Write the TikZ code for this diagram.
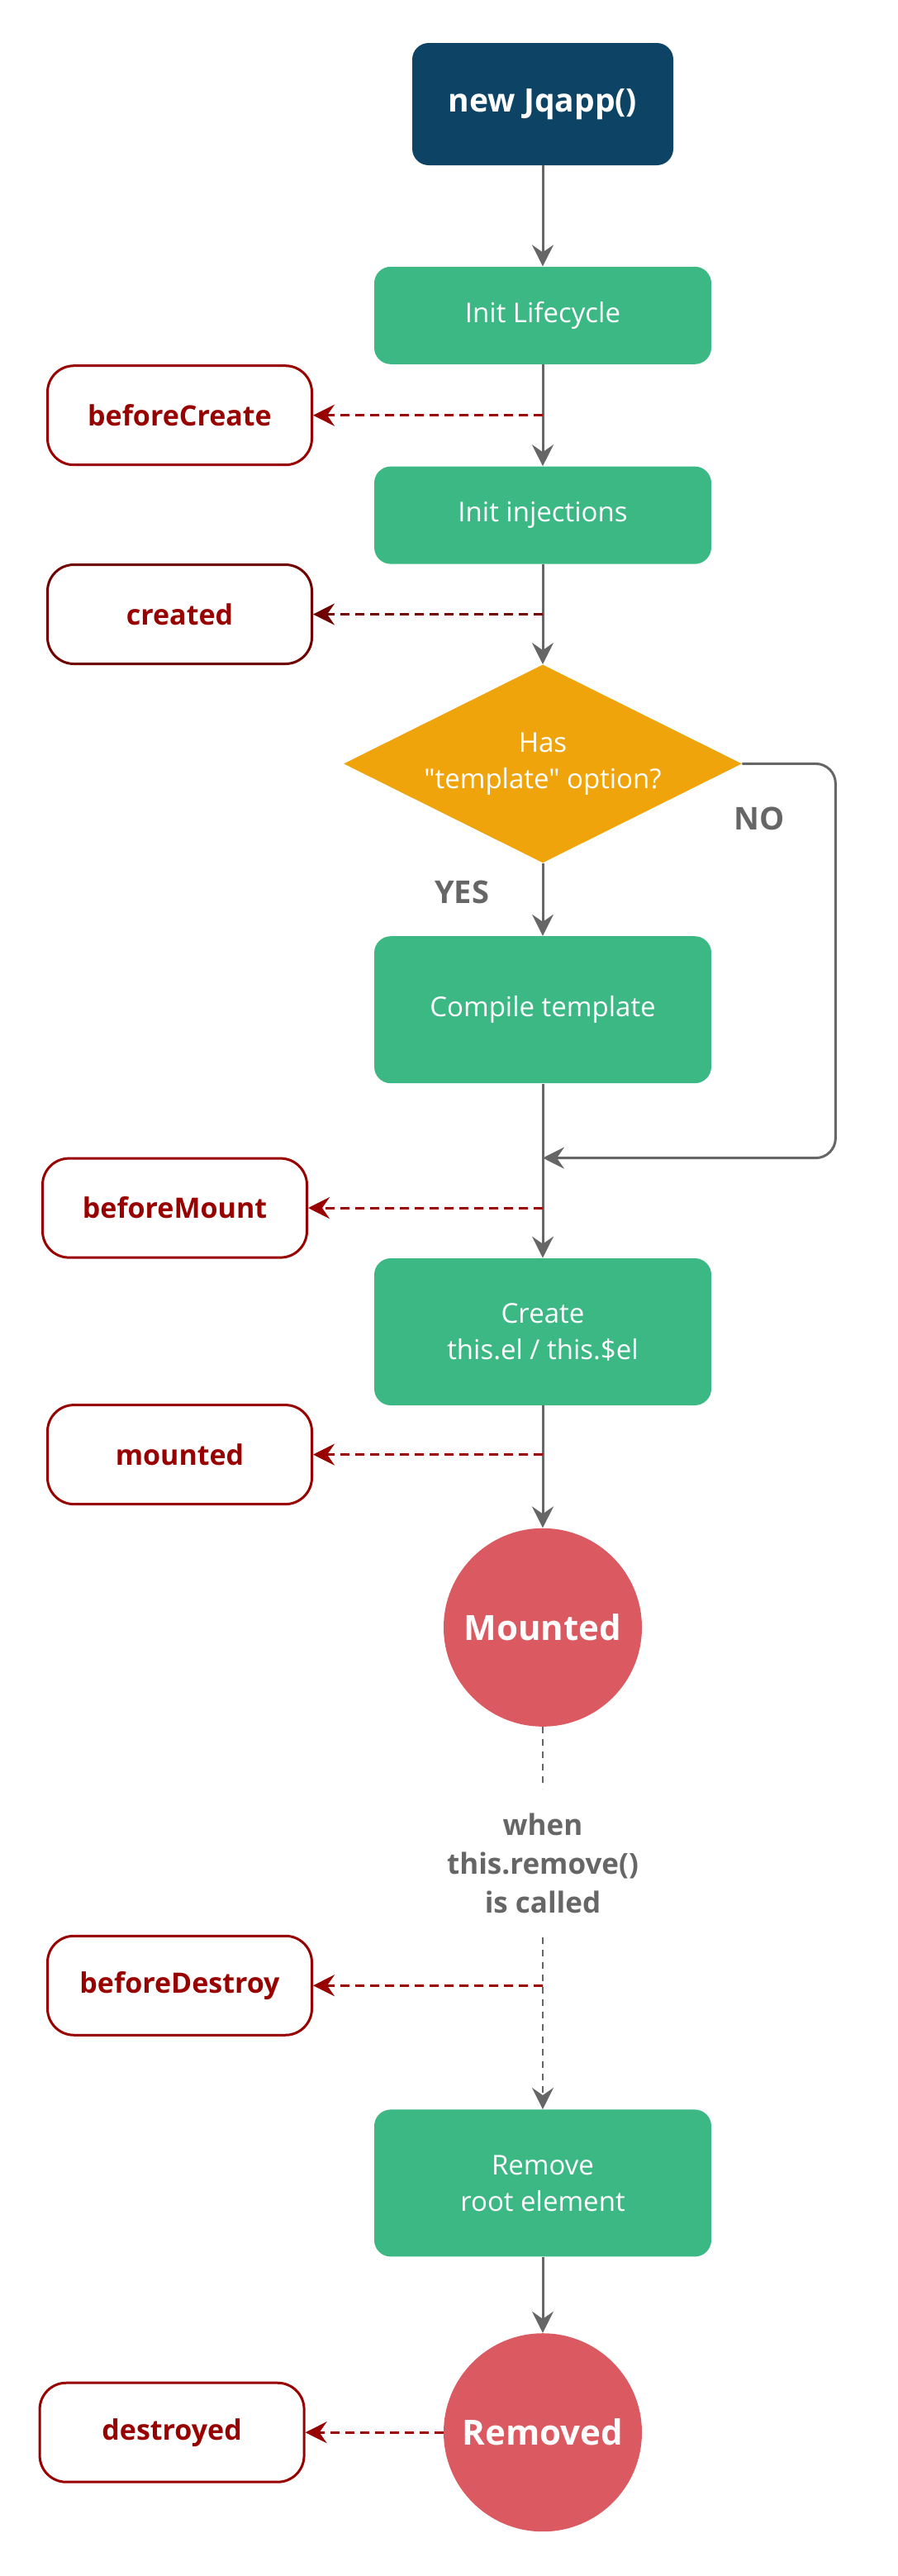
\documentclass[tikz,border=0pt]{standalone}
\usepackage{fontspec}
\setmainfont{Open Sans}[Ligatures=TeXOff]
\usetikzlibrary{positioning,shapes.geometric,arrows.meta,calc}
\definecolor{jqnavy}{HTML}{0D4466}
\definecolor{jqgreen}{HTML}{3CB884}
\definecolor{jqorange}{HTML}{F0A40B}
\definecolor{jqred}{HTML}{DB5A61}
\definecolor{jqgray}{HTML}{666666}
\definecolor{hookred}{HTML}{990000}
\definecolor{hookdark}{HTML}{700000}

\begin{document}
\begin{tikzpicture}[
    font=\fontsize{16.5}{22}\selectfont,
    tip/.style={-{Stealth[length=13pt,width=13pt,inset=4.5pt]}},
    stage/.style={rectangle, rounded corners=10pt, fill=jqgreen, text=white,
      minimum width=204pt, minimum height=59pt, align=center},
    tallstage/.style={stage, minimum height=89pt},
    hook/.style={rectangle, rounded corners=16pt, draw=hookred, line width=1.5pt,
      fill=white, text=hookred, minimum width=160pt, minimum height=60pt,
      font=\fontsize{17}{22}\selectfont\bfseries},
    state/.style={circle, fill=jqred, text=white, minimum size=120pt, inner sep=0pt,
      font=\fontsize{21}{26}\selectfont\bfseries},
    choice/.style={text=jqgray, inner sep=0pt, font=\fontsize{19}{24}\selectfont\bfseries},
    flow/.style={draw=jqgray, line width=1.5pt, tip},
    call/.style={draw=hookred, line width=1.5pt, dash pattern=on 5.5pt off 3.5pt, tip},
    wait/.style={draw=jqgray, line width=1.3pt, dash pattern=on 4pt off 3.5pt}
  ]
  \useasboundingbox (0,0) rectangle (543.5pt,-1559pt);

  % main column
  \node[rectangle, rounded corners=10pt, fill=jqnavy, text=white, minimum width=158pt,
    minimum height=74pt, font=\fontsize{19.5}{24}\selectfont\bfseries]
    (jq) at (328.5pt,-63pt) {new Jqapp()};
  \node[stage, below=61pt of jq] (life) {Init Lifecycle};
  \node[stage, below=61.5pt of life] (inj) {Init injections};
  \node[diamond, aspect=2, fill=jqorange, text=white, inner sep=0pt, align=center,
    minimum width=241pt, minimum height=120pt, below=60.5pt of inj]
    (tpl) {Has\\"template" option?};
  \node[tallstage, below=44pt of tpl] (comp) {Compile template};
  \coordinate[below=45pt of comp] (merge);
  \node[tallstage, below=105.5pt of comp] (mkel) {Create\\this.el / this.\$el};
  \node[state, below=74pt of mkel] (mounted) {Mounted};
  \node[text=jqgray, align=center, inner sep=0pt, minimum height=89.5pt,
    font=\fontsize{17.5}{23.5}\selectfont\bfseries, below=37.5pt of mounted]
    (when) {when\\this.remove()\\is called};
  \node[tallstage, below=104pt of when] (rmroot) {Remove\\root element};
  \node[state, below=46pt of rmroot] (removed) {Removed};

  % hook points on the main line
  \coordinate (p1) at ($(life.south)!.5!(inj.north)$);
  \coordinate (p2) at ($(inj.south)!.5!(tpl.north)$);
  \coordinate (p3) at ($(merge)!.5!(mkel.north)$);
  \coordinate (p4) at ($(mkel.south)!.4!(mounted.north)$);
  \coordinate (p5) at ($(when.south)!.28!(rmroot.north)$);

  % hooks
  \node[hook, left=139pt of p1] (bcreate) {beforeCreate};
  \node[hook, draw=hookdark, left=139pt of p2] (created) {created};
  \node[hook, left=142pt of p3] (bmount) {beforeMount};
  \node[hook, left=139pt of p4] (mountedhk) {mounted};
  \node[hook, left=139pt of p5] (bdestroy) {beforeDestroy};
  \node[hook, left=83.5pt of removed] (destroyed) {destroyed};

  % flow
  \draw[flow] (jq) -- (life);
  \draw[flow] (life) -- (inj);
  \draw[flow] (inj) -- (tpl);
  \draw[flow] (tpl) -- (comp);
  \draw[flow] (comp) -- (mkel);
  \draw[flow, rounded corners=12pt] (tpl.east) -- ++(56.5pt,0) |- (merge);
  \draw[flow] (mkel) -- (mounted);
  \draw[wait] (mounted) -- (when);
  \draw[wait, tip] (when) -- (rmroot);
  \draw[flow] (rmroot) -- (removed);
  \node[choice] at ($(tpl.south)+(-49pt,-17.5pt)$) (yes) {YES};
  \node[choice] at ($(tpl.east)+(10.5pt,-33pt)$) (no) {NO};

  % hook calls
  \draw[call] (p1) -- (bcreate);
  \draw[call, draw=hookdark] (p2) -- (created);
  \draw[call] (p3) -- (bmount);
  \draw[call] (p4) -- (mountedhk);
  \draw[call] (p5) -- (bdestroy);
  \draw[call] (removed) -- (destroyed);
\end{tikzpicture}
\end{document}
